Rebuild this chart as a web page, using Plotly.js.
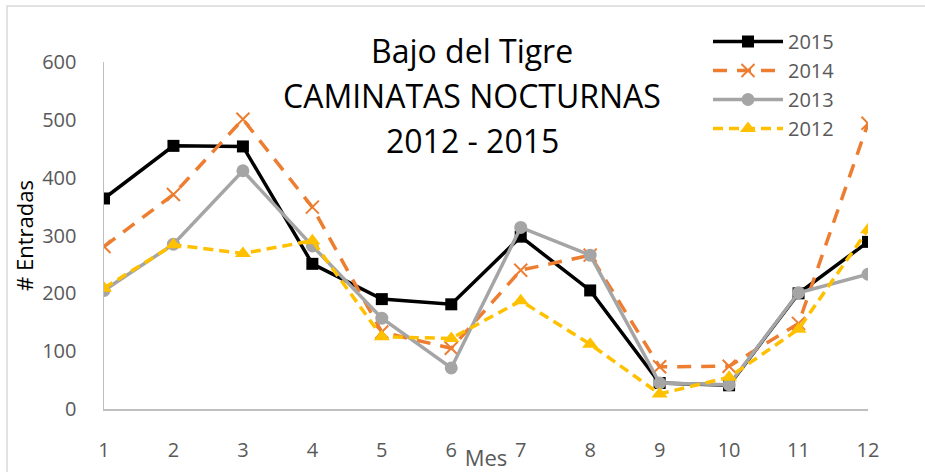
<!DOCTYPE html>
<html>
<head>
<meta charset="utf-8">
<script src="https://cdn.plot.ly/plotly-3.0.1.min.js"></script>
<style>html,body{margin:0;padding:0;background:#fff;}#chart{width:925px;height:472px;}</style>
</head>
<body>
<div id="chart"></div>
<script>
const months = [1,2,3,4,5,6,7,8,9,10,11,12];
const tickLabels = ["1","2","3","4","5","6","7","8","9","10","11","12"];
const s2015 = [364,455,454,251,190,181,298,205,45,41,200,289];
const s2014 = [281,371,501,349,133,105,240,266,73,74,148,494];
const s2013 = [205,285,412,282,157,71,314,266,45,42,201,233];
const s2012 = [209,284,269,291,125,122,187,112,26,55,138,310];
const seriesNames = ["2015","2014","2013","2012"];

const W = 925, H = 472;
const L = 104, R = 57, T = 62, B = 63;
const pw = W - L - R, ph = H - T - B;
function px(x){ return (x - L) / pw; }
function py(y){ return (H - B - y) / ph; }

const traces = [
  {x: months, y: s2015, name: seriesNames[0], mode: 'lines+markers',
   line: {color: '#000000', width: 3.5}, marker: {symbol: 'square', size: 12, color: '#000000'}},
  {x: months, y: s2014, name: seriesNames[1], mode: 'lines+markers',
   line: {color: '#ED7D31', width: 3.5, dash: '14px,10px'}, marker: {symbol: 'x-thin', size: 13, line: {color: '#ED7D31', width: 2}}},
  {x: months, y: s2013, name: seriesNames[2], mode: 'lines+markers',
   line: {color: '#A5A5A5', width: 3.5}, marker: {symbol: 'circle', size: 13, color: '#A5A5A5'}},
  {x: months, y: s2012, name: seriesNames[3], mode: 'lines+markers',
   line: {color: '#FFC000', width: 3.5, dash: '10px,6px'}, marker: {symbol: 'triangle-up', size: 14, color: '#FFC000'}}
];

const titleFont = {family: 'Open Sans, sans-serif', size: 32, color: '#000000'};
const layout = {
  width: W, height: H,
  margin: {l: L, r: R, t: T, b: B},
  paper_bgcolor: '#ffffff', plot_bgcolor: '#ffffff',
  showlegend: true,
  legend: {x: px(708), y: py(22), xanchor: 'left', yanchor: 'top',
           font: {family: 'Open Sans, sans-serif', size: 20, color: '#595959'},
           itemwidth: 70, tracegroupgap: 0, bgcolor: 'rgba(0,0,0,0)'},
  xaxis: {range: [1, 12], tickvals: months, ticktext: tickLabels,
          showgrid: false, zeroline: false, showline: true, linecolor: '#BFBFBF', linewidth: 1.5,
          ticks: '', ticklabelstandoff: 22,
          tickfont: {family: 'Open Sans, sans-serif', size: 20, color: '#595959'},
          title: {text: 'Mes', font: {family: 'Open Sans, sans-serif', size: 22, color: '#595959'}, standoff: 0}},
  yaxis: {range: [0, 600], dtick: 100, tick0: 0,
          showgrid: false, zeroline: false, showline: true, linecolor: '#BFBFBF', linewidth: 1.5,
          ticks: '', ticklabelstandoff: 22,
          tickfont: {family: 'Open Sans, sans-serif', size: 20, color: '#595959'},
          title: {text: '# Entradas', font: {family: 'Open Sans, sans-serif', size: 22, color: '#000000'}, standoff: 2}},
  annotations: [
    {text: 'Bajo del Tigre', xref: 'paper', yref: 'paper', x: px(472), y: py(50), showarrow: false, xanchor: 'center', yanchor: 'middle', font: titleFont},
    {text: 'CAMINATAS NOCTURNAS', xref: 'paper', yref: 'paper', x: px(472), y: py(95), showarrow: false, xanchor: 'center', yanchor: 'middle', font: titleFont},
    {text: '2012 - 2015', xref: 'paper', yref: 'paper', x: px(472), y: py(140), showarrow: false, xanchor: 'center', yanchor: 'middle', font: titleFont}
  ],
  shapes: [
    {type: 'rect', xref: 'paper', yref: 'paper', x0: px(7), x1: px(945), y0: py(6), y1: py(490),
     line: {color: '#D9D9D9', width: 1.5}, fillcolor: 'rgba(0,0,0,0)', layer: 'below'}
  ]
};

Plotly.newPlot('chart', traces, layout, {staticPlot: true, displayModeBar: false});
</script>
</body>
</html>
